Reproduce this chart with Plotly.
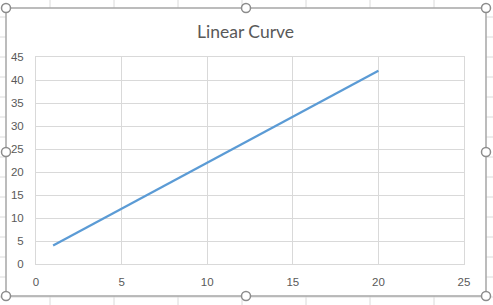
import plotly.graph_objects as go

x_vals = [1, 2, 3, 4, 5, 6, 7, 8, 9, 10, 11, 12, 13, 14, 15, 16, 17, 18, 19, 20]
y_vals = [4, 6, 8, 10, 12, 14, 16, 18, 20, 22, 24, 26, 28, 30, 32, 34, 36, 38, 40, 42]
title_text = "Linear Curve"
x_ticks = [0, 5, 10, 15, 20, 25]
y_ticks = [0, 5, 10, 15, 20, 25, 30, 35, 40, 45]

W, H = 493, 305
L, R, T, B = 36, 29, 57, 41
PW, PH = W - L - R, H - T - B

def px(xp):
    return (xp - L) / PW

def py(yp):
    return (H - B - yp) / PH

fig = go.Figure()
fig.add_trace(go.Scatter(x=x_vals, y=y_vals, mode="lines",
                         line=dict(color="#5B9BD5", width=2.25), hoverinfo="skip"))

shapes = []
sheet = "#DADADA"
# background spreadsheet grid
for cx in [50, 114, 178, 242, 306, 370, 434]:
    shapes.append(dict(type="line", xref="paper", yref="paper", x0=px(cx), x1=px(cx),
                       y0=py(-2), y1=py(H + 2), line=dict(color=sheet, width=1), layer="below"))
for ry in range(-3, 310, 20):
    shapes.append(dict(type="line", xref="paper", yref="paper", x0=px(-2), x1=px(W + 2),
                       y0=py(ry), y1=py(ry), line=dict(color=sheet, width=1), layer="below"))
# chart frame
fx0, fx1, fy0, fy1 = 6, 486, 8, 296
shapes.append(dict(type="rect", xref="paper", yref="paper", x0=px(fx0), x1=px(fx1),
                   y0=py(fy1), y1=py(fy0), fillcolor="white",
                   line=dict(color="#A6A6A6", width=1.5), layer="below"))
# selection handles
for hx, hy in [(fx0, fy0), ((fx0 + fx1) / 2, fy0), (fx1, fy0), (fx0, (fy0 + fy1) / 2),
               (fx1, (fy0 + fy1) / 2), (fx0, fy1), ((fx0 + fx1) / 2, fy1), (fx1, fy1)]:
    shapes.append(dict(type="circle", xref="paper", yref="paper",
                       xsizemode="pixel", ysizemode="pixel",
                       xanchor=px(hx), yanchor=py(hy), x0=-4.5, x1=4.5, y0=-4.5, y1=4.5,
                       fillcolor="white", line=dict(color="#8C8C8C", width=1.5), layer="above"))

font = "Liberation Sans, Arial, sans-serif"
grid = "#D9D9D9"
fig.update_layout(
    width=W, height=H,
    margin=dict(l=L, r=R, t=T, b=B),
    paper_bgcolor="white", plot_bgcolor="rgba(0,0,0,0)",
    showlegend=False,
    shapes=shapes,
    annotations=[dict(text=title_text, xref="paper", yref="paper", x=px(245), y=py(31),
                      xanchor="center", yanchor="middle", showarrow=False,
                      font=dict(family="Lato, Open Sans, sans-serif", size=17.5, color="#595959"))],
    xaxis=dict(range=[0, 25], tickvals=x_ticks, showgrid=True, gridcolor=grid, gridwidth=1,
               zeroline=True, zerolinecolor=grid, zerolinewidth=1,
               showline=True, mirror=True, linecolor=grid, linewidth=1,
               ticks="outside", ticklen=7, tickcolor="rgba(0,0,0,0)",
               tickfont=dict(family=font, size=11.5, color="#595959")),
    yaxis=dict(range=[0, 45], tickvals=y_ticks, showgrid=True, gridcolor=grid, gridwidth=1,
               zeroline=True, zerolinecolor=grid, zerolinewidth=1,
               showline=True, mirror=True, linecolor=grid, linewidth=1,
               ticks="outside", ticklen=9, tickcolor="rgba(0,0,0,0)",
               tickfont=dict(family=font, size=11.5, color="#595959")),
)

fig.write_html("out.html")
